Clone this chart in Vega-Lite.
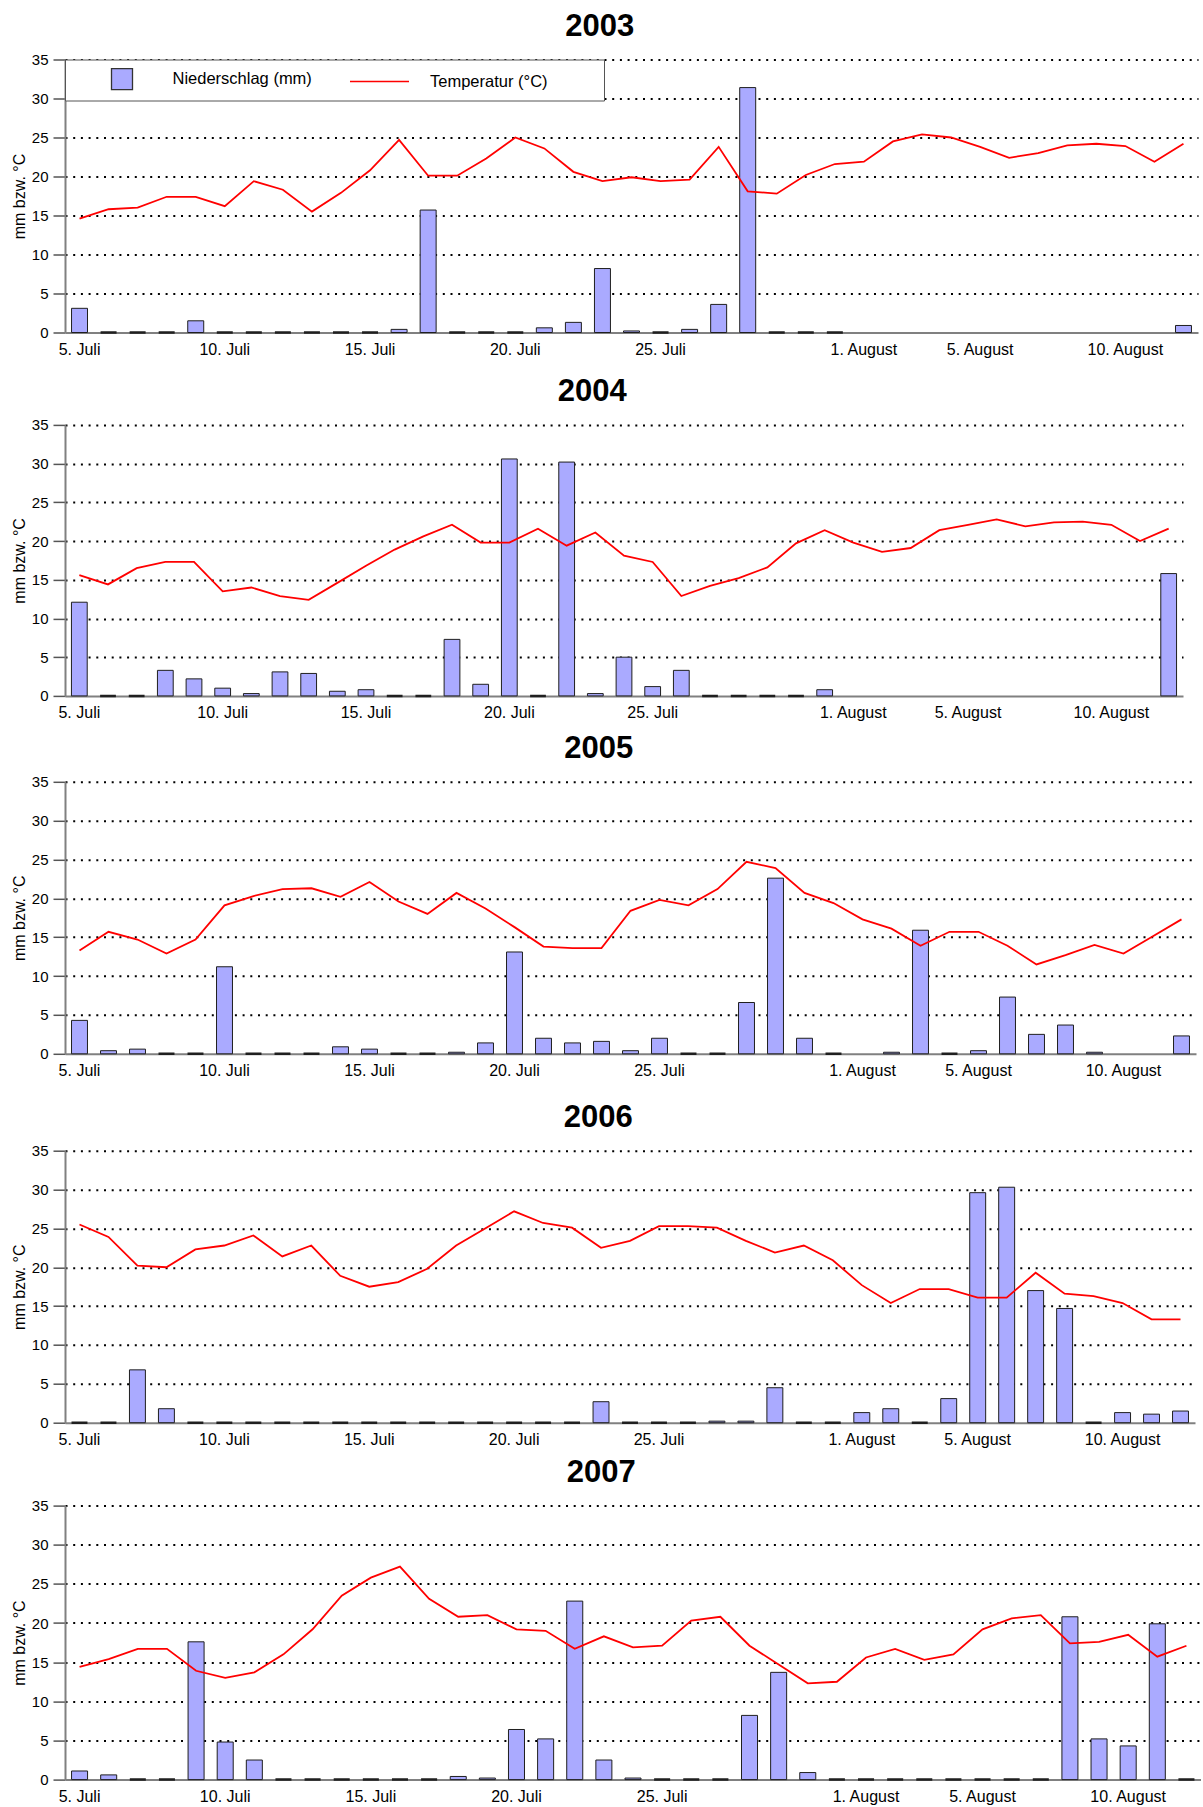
{
  "$schema": "https://vega.github.io/schema/vega-lite/v6.json",
  "background": "white",
  "padding": {"left": 11, "top": 10.5, "right": 0, "bottom": 0},
  "config": {
    "font": "Liberation Sans",
    "view": {"stroke": null},
    "title": {"fontSize": 31, "fontWeight": "bold", "color": "black", "anchor": "middle", "frame": "bounds", "offset": 9.5, "dx": -5},
    "axisX": {
      "ticks": false, "tickSize": 0, "labelAngle": 0, "labelFontSize": 16, "labelColor": "black", "labelPadding": 8.5,
      "labelOverlap": false, "labelFlush": false, "domainColor": "#808080", "domainWidth": 2, "grid": false
    },
    "axisY": {
      "values": [0, 5, 10, 15, 20, 25, 30, 35],
      "titleFontSize": 16, "titleFontWeight": "normal", "titleColor": "black", "titlePadding": 4,
      "labelFontSize": 15, "labelColor": "black", "labelPadding": 5, "labelOverlap": false,
      "tickSize": 12, "tickColor": "#555555", "tickWidth": 1.5, "domainColor": "#808080", "domainWidth": 2,
      "grid": true, "gridColor": "black", "gridWidth": 2, "gridDash": [2, 5.7]
    }
  },
  "resolve": {"scale": {"x": "independent", "y": "independent", "color": "independent"}, "legend": {"color": "independent"}},
  "data": {
    "values": [
      {"year": 2003, "day": "5. Juli", "mm": 3.1, "temp": 14.6},
      {"year": 2003, "day": "6. Juli", "mm": 0, "temp": 15.8},
      {"year": 2003, "day": "7. Juli", "mm": 0, "temp": 16.0},
      {"year": 2003, "day": "8. Juli", "mm": 0, "temp": 17.4},
      {"year": 2003, "day": "9. Juli", "mm": 1.5, "temp": 17.4},
      {"year": 2003, "day": "10. Juli", "mm": 0, "temp": 16.2},
      {"year": 2003, "day": "11. Juli", "mm": 0, "temp": 19.4},
      {"year": 2003, "day": "12. Juli", "mm": 0, "temp": 18.3},
      {"year": 2003, "day": "13. Juli", "mm": 0, "temp": 15.5},
      {"year": 2003, "day": "14. Juli", "mm": 0, "temp": 17.9},
      {"year": 2003, "day": "15. Juli", "mm": 0, "temp": 20.8},
      {"year": 2003, "day": "16. Juli", "mm": 0.4, "temp": 24.7},
      {"year": 2003, "day": "17. Juli", "mm": 15.7, "temp": 20.1},
      {"year": 2003, "day": "18. Juli", "mm": 0, "temp": 20.1},
      {"year": 2003, "day": "19. Juli", "mm": 0, "temp": 22.3},
      {"year": 2003, "day": "20. Juli", "mm": 0, "temp": 25.0},
      {"year": 2003, "day": "21. Juli", "mm": 0.6, "temp": 23.6},
      {"year": 2003, "day": "22. Juli", "mm": 1.3, "temp": 20.6},
      {"year": 2003, "day": "23. Juli", "mm": 8.2, "temp": 19.4},
      {"year": 2003, "day": "24. Juli", "mm": 0.2, "temp": 19.9},
      {"year": 2003, "day": "25. Juli", "mm": 0, "temp": 19.4},
      {"year": 2003, "day": "26. Juli", "mm": 0.4, "temp": 19.6},
      {"year": 2003, "day": "27. Juli", "mm": 3.6, "temp": 23.8},
      {"year": 2003, "day": "28. Juli", "mm": 31.4, "temp": 18.1},
      {"year": 2003, "day": "29. Juli", "mm": 0, "temp": 17.8},
      {"year": 2003, "day": "30. Juli", "mm": 0, "temp": 20.2},
      {"year": 2003, "day": "31. Juli", "mm": 0, "temp": 21.6},
      {"year": 2003, "day": "1. August", "mm": null, "temp": 21.9},
      {"year": 2003, "day": "2. August", "mm": null, "temp": 24.5},
      {"year": 2003, "day": "3. August", "mm": null, "temp": 25.4},
      {"year": 2003, "day": "4. August", "mm": null, "temp": 25.0},
      {"year": 2003, "day": "5. August", "mm": null, "temp": 23.8},
      {"year": 2003, "day": "6. August", "mm": null, "temp": 22.4},
      {"year": 2003, "day": "7. August", "mm": null, "temp": 23.0},
      {"year": 2003, "day": "8. August", "mm": null, "temp": 24.0},
      {"year": 2003, "day": "9. August", "mm": null, "temp": 24.2},
      {"year": 2003, "day": "10. August", "mm": null, "temp": 23.9},
      {"year": 2003, "day": "11. August", "mm": null, "temp": 21.9},
      {"year": 2003, "day": "12. August", "mm": 0.9, "temp": 24.2},

      {"year": 2004, "day": "5. Juli", "mm": 12.1, "temp": 15.6},
      {"year": 2004, "day": "6. Juli", "mm": 0, "temp": 14.4},
      {"year": 2004, "day": "7. Juli", "mm": 0, "temp": 16.5},
      {"year": 2004, "day": "8. Juli", "mm": 3.3, "temp": 17.3},
      {"year": 2004, "day": "9. Juli", "mm": 2.2, "temp": 17.3},
      {"year": 2004, "day": "10. Juli", "mm": 1.0, "temp": 13.5},
      {"year": 2004, "day": "11. Juli", "mm": 0.3, "temp": 14.0},
      {"year": 2004, "day": "12. Juli", "mm": 3.1, "temp": 12.9},
      {"year": 2004, "day": "13. Juli", "mm": 2.9, "temp": 12.4},
      {"year": 2004, "day": "14. Juli", "mm": 0.6, "temp": 14.6},
      {"year": 2004, "day": "15. Juli", "mm": 0.8, "temp": 16.8},
      {"year": 2004, "day": "16. Juli", "mm": 0, "temp": 18.9},
      {"year": 2004, "day": "17. Juli", "mm": 0, "temp": 20.6},
      {"year": 2004, "day": "18. Juli", "mm": 7.3, "temp": 22.1},
      {"year": 2004, "day": "19. Juli", "mm": 1.5, "temp": 19.8},
      {"year": 2004, "day": "20. Juli", "mm": 30.6, "temp": 19.8},
      {"year": 2004, "day": "21. Juli", "mm": 0, "temp": 21.6},
      {"year": 2004, "day": "22. Juli", "mm": 30.2, "temp": 19.4},
      {"year": 2004, "day": "23. Juli", "mm": 0.3, "temp": 21.1},
      {"year": 2004, "day": "24. Juli", "mm": 5.0, "temp": 18.1},
      {"year": 2004, "day": "25. Juli", "mm": 1.2, "temp": 17.3},
      {"year": 2004, "day": "26. Juli", "mm": 3.3, "temp": 12.9},
      {"year": 2004, "day": "27. Juli", "mm": 0, "temp": 14.2},
      {"year": 2004, "day": "28. Juli", "mm": 0, "temp": 15.2},
      {"year": 2004, "day": "29. Juli", "mm": 0, "temp": 16.6},
      {"year": 2004, "day": "30. Juli", "mm": 0, "temp": 19.7},
      {"year": 2004, "day": "31. Juli", "mm": 0.8, "temp": 21.4},
      {"year": 2004, "day": "1. August", "mm": null, "temp": 19.8},
      {"year": 2004, "day": "2. August", "mm": null, "temp": 18.6},
      {"year": 2004, "day": "3. August", "mm": null, "temp": 19.1},
      {"year": 2004, "day": "4. August", "mm": null, "temp": 21.4},
      {"year": 2004, "day": "5. August", "mm": null, "temp": 22.1},
      {"year": 2004, "day": "6. August", "mm": null, "temp": 22.8},
      {"year": 2004, "day": "7. August", "mm": null, "temp": 21.9},
      {"year": 2004, "day": "8. August", "mm": null, "temp": 22.4},
      {"year": 2004, "day": "9. August", "mm": null, "temp": 22.5},
      {"year": 2004, "day": "10. August", "mm": null, "temp": 22.1},
      {"year": 2004, "day": "11. August", "mm": null, "temp": 20.0},
      {"year": 2004, "day": "12. August", "mm": 15.8, "temp": 21.6},

      {"year": 2005, "day": "5. Juli", "mm": 4.3, "temp": 13.3},
      {"year": 2005, "day": "6. Juli", "mm": 0.4, "temp": 15.7},
      {"year": 2005, "day": "7. Juli", "mm": 0.6, "temp": 14.7},
      {"year": 2005, "day": "8. Juli", "mm": 0, "temp": 12.9},
      {"year": 2005, "day": "9. Juli", "mm": 0, "temp": 14.7},
      {"year": 2005, "day": "10. Juli", "mm": 11.2, "temp": 19.1},
      {"year": 2005, "day": "11. Juli", "mm": 0, "temp": 20.3},
      {"year": 2005, "day": "12. Juli", "mm": 0, "temp": 21.2},
      {"year": 2005, "day": "13. Juli", "mm": 0, "temp": 21.3},
      {"year": 2005, "day": "14. Juli", "mm": 0.9, "temp": 20.2},
      {"year": 2005, "day": "15. Juli", "mm": 0.6, "temp": 22.1},
      {"year": 2005, "day": "16. Juli", "mm": 0, "temp": 19.6},
      {"year": 2005, "day": "17. Juli", "mm": 0, "temp": 18.0},
      {"year": 2005, "day": "18. Juli", "mm": 0.2, "temp": 20.7},
      {"year": 2005, "day": "19. Juli", "mm": 1.4, "temp": 18.7},
      {"year": 2005, "day": "20. Juli", "mm": 13.1, "temp": 16.3},
      {"year": 2005, "day": "21. Juli", "mm": 2.0, "temp": 13.8},
      {"year": 2005, "day": "22. Juli", "mm": 1.4, "temp": 13.6},
      {"year": 2005, "day": "23. Juli", "mm": 1.6, "temp": 13.6},
      {"year": 2005, "day": "24. Juli", "mm": 0.4, "temp": 18.4},
      {"year": 2005, "day": "25. Juli", "mm": 2.0, "temp": 19.8},
      {"year": 2005, "day": "26. Juli", "mm": 0, "temp": 19.1},
      {"year": 2005, "day": "27. Juli", "mm": 0, "temp": 21.2},
      {"year": 2005, "day": "28. Juli", "mm": 6.6, "temp": 24.7},
      {"year": 2005, "day": "29. Juli", "mm": 22.6, "temp": 23.9},
      {"year": 2005, "day": "30. Juli", "mm": 2.0, "temp": 20.7},
      {"year": 2005, "day": "31. Juli", "mm": 0, "temp": 19.4},
      {"year": 2005, "day": "1. August", "mm": null, "temp": 17.3},
      {"year": 2005, "day": "2. August", "mm": 0.2, "temp": 16.1},
      {"year": 2005, "day": "3. August", "mm": 15.9, "temp": 13.9},
      {"year": 2005, "day": "4. August", "mm": 0, "temp": 15.7},
      {"year": 2005, "day": "5. August", "mm": 0.4, "temp": 15.7},
      {"year": 2005, "day": "6. August", "mm": 7.3, "temp": 13.9},
      {"year": 2005, "day": "7. August", "mm": 2.5, "temp": 11.5},
      {"year": 2005, "day": "8. August", "mm": 3.7, "temp": 12.7},
      {"year": 2005, "day": "9. August", "mm": 0.2, "temp": 14.0},
      {"year": 2005, "day": "10. August", "mm": null, "temp": 12.9},
      {"year": 2005, "day": "11. August", "mm": null, "temp": 15.1},
      {"year": 2005, "day": "12. August", "mm": 2.3, "temp": 17.3},

      {"year": 2006, "day": "5. Juli", "mm": 0, "temp": 25.5},
      {"year": 2006, "day": "6. Juli", "mm": 0, "temp": 23.9},
      {"year": 2006, "day": "7. Juli", "mm": 6.8, "temp": 20.2},
      {"year": 2006, "day": "8. Juli", "mm": 1.8, "temp": 20.0},
      {"year": 2006, "day": "9. Juli", "mm": 0, "temp": 22.3},
      {"year": 2006, "day": "10. Juli", "mm": 0, "temp": 22.8},
      {"year": 2006, "day": "11. Juli", "mm": 0, "temp": 24.1},
      {"year": 2006, "day": "12. Juli", "mm": 0, "temp": 21.4},
      {"year": 2006, "day": "13. Juli", "mm": 0, "temp": 22.8},
      {"year": 2006, "day": "14. Juli", "mm": 0, "temp": 18.9},
      {"year": 2006, "day": "15. Juli", "mm": 0, "temp": 17.5},
      {"year": 2006, "day": "16. Juli", "mm": 0, "temp": 18.1},
      {"year": 2006, "day": "17. Juli", "mm": 0, "temp": 19.8},
      {"year": 2006, "day": "18. Juli", "mm": 0, "temp": 22.8},
      {"year": 2006, "day": "19. Juli", "mm": 0, "temp": 25.0},
      {"year": 2006, "day": "20. Juli", "mm": 0, "temp": 27.2},
      {"year": 2006, "day": "21. Juli", "mm": 0, "temp": 25.7},
      {"year": 2006, "day": "22. Juli", "mm": 0, "temp": 25.1},
      {"year": 2006, "day": "23. Juli", "mm": 2.7, "temp": 22.5},
      {"year": 2006, "day": "24. Juli", "mm": 0, "temp": 23.4},
      {"year": 2006, "day": "25. Juli", "mm": 0, "temp": 25.3},
      {"year": 2006, "day": "26. Juli", "mm": 0, "temp": 25.3},
      {"year": 2006, "day": "27. Juli", "mm": 0.2, "temp": 25.1},
      {"year": 2006, "day": "28. Juli", "mm": 0.2, "temp": 23.4},
      {"year": 2006, "day": "29. Juli", "mm": 4.5, "temp": 21.9},
      {"year": 2006, "day": "30. Juli", "mm": 0, "temp": 22.8},
      {"year": 2006, "day": "31. Juli", "mm": 0, "temp": 20.9},
      {"year": 2006, "day": "1. August", "mm": 1.3, "temp": 17.7},
      {"year": 2006, "day": "2. August", "mm": 1.8, "temp": 15.4},
      {"year": 2006, "day": "3. August", "mm": 0, "temp": 17.2},
      {"year": 2006, "day": "4. August", "mm": 3.1, "temp": 17.2},
      {"year": 2006, "day": "5. August", "mm": 29.6, "temp": 16.1},
      {"year": 2006, "day": "6. August", "mm": 30.3, "temp": 16.1},
      {"year": 2006, "day": "7. August", "mm": 17.0, "temp": 19.3},
      {"year": 2006, "day": "8. August", "mm": 14.7, "temp": 16.6},
      {"year": 2006, "day": "9. August", "mm": 0, "temp": 16.3},
      {"year": 2006, "day": "10. August", "mm": 1.3, "temp": 15.4},
      {"year": 2006, "day": "11. August", "mm": 1.1, "temp": 13.3},
      {"year": 2006, "day": "12. August", "mm": 1.5, "temp": 13.3},

      {"year": 2007, "day": "5. Juli", "mm": 1.1, "temp": 14.4},
      {"year": 2007, "day": "6. Juli", "mm": 0.6, "temp": 15.4},
      {"year": 2007, "day": "7. Juli", "mm": 0, "temp": 16.7},
      {"year": 2007, "day": "8. Juli", "mm": 0, "temp": 16.7},
      {"year": 2007, "day": "9. Juli", "mm": 17.6, "temp": 13.9},
      {"year": 2007, "day": "10. Juli", "mm": 4.8, "temp": 13.0},
      {"year": 2007, "day": "11. Juli", "mm": 2.5, "temp": 13.7},
      {"year": 2007, "day": "12. Juli", "mm": 0, "temp": 16.0},
      {"year": 2007, "day": "13. Juli", "mm": 0, "temp": 19.2},
      {"year": 2007, "day": "14. Juli", "mm": 0, "temp": 23.5},
      {"year": 2007, "day": "15. Juli", "mm": 0, "temp": 25.8},
      {"year": 2007, "day": "16. Juli", "mm": 0, "temp": 27.2},
      {"year": 2007, "day": "17. Juli", "mm": 0, "temp": 23.1},
      {"year": 2007, "day": "18. Juli", "mm": 0.4, "temp": 20.8},
      {"year": 2007, "day": "19. Juli", "mm": 0.2, "temp": 21.0},
      {"year": 2007, "day": "20. Juli", "mm": 6.4, "temp": 19.2},
      {"year": 2007, "day": "21. Juli", "mm": 5.2, "temp": 19.0},
      {"year": 2007, "day": "22. Juli", "mm": 22.8, "temp": 16.7},
      {"year": 2007, "day": "23. Juli", "mm": 2.5, "temp": 18.3},
      {"year": 2007, "day": "24. Juli", "mm": 0.2, "temp": 16.9},
      {"year": 2007, "day": "25. Juli", "mm": 0, "temp": 17.1},
      {"year": 2007, "day": "26. Juli", "mm": 0, "temp": 20.3},
      {"year": 2007, "day": "27. Juli", "mm": 0, "temp": 20.8},
      {"year": 2007, "day": "28. Juli", "mm": 8.2, "temp": 17.1},
      {"year": 2007, "day": "29. Juli", "mm": 13.7, "temp": 14.7},
      {"year": 2007, "day": "30. Juli", "mm": 0.9, "temp": 12.3},
      {"year": 2007, "day": "31. Juli", "mm": 0, "temp": 12.5},
      {"year": 2007, "day": "1. August", "mm": 0, "temp": 15.6},
      {"year": 2007, "day": "2. August", "mm": 0, "temp": 16.7},
      {"year": 2007, "day": "3. August", "mm": 0, "temp": 15.3},
      {"year": 2007, "day": "4. August", "mm": 0, "temp": 16.0},
      {"year": 2007, "day": "5. August", "mm": 0, "temp": 19.2},
      {"year": 2007, "day": "6. August", "mm": 0, "temp": 20.6},
      {"year": 2007, "day": "7. August", "mm": 0, "temp": 21.0},
      {"year": 2007, "day": "8. August", "mm": 20.8, "temp": 17.4},
      {"year": 2007, "day": "9. August", "mm": 5.2, "temp": 17.6},
      {"year": 2007, "day": "10. August", "mm": 4.3, "temp": 18.5},
      {"year": 2007, "day": "11. August", "mm": 19.9, "temp": 15.7},
      {"year": 2007, "day": "12. August", "mm": 0, "temp": 17.1}
    ]
  },
  "spacing": 18.4,
  "vconcat": [
    {
      "title": {"text": "2003"},
      "width": 1133, "height": 273,
      "transform": [{"filter": "datum.year === 2003"}],
      "encoding": {
        "x": {"field": "day", "type": "ordinal", "sort": null,
          "axis": {"title": null, "values": ["5. Juli", "10. Juli", "15. Juli", "20. Juli", "25. Juli", "1. August", "5. August", "10. August"]},
          "scale": {"paddingInner": 0.45, "paddingOuter": 0.225, "domain": ["5. Juli", "6. Juli", "7. Juli", "8. Juli", "9. Juli", "10. Juli", "11. Juli", "12. Juli", "13. Juli", "14. Juli", "15. Juli", "16. Juli", "17. Juli", "18. Juli", "19. Juli", "20. Juli", "21. Juli", "22. Juli", "23. Juli", "24. Juli", "25. Juli", "26. Juli", "27. Juli", "28. Juli", "29. Juli", "30. Juli", "31. Juli", "1. August", "2. August", "3. August", "4. August", "5. August", "6. August", "7. August", "8. August", "9. August", "10. August", "11. August", "12. August"]}}
      },
      "layer": [
        {
          "mark": {"type": "bar", "stroke": "#1f1f1f"},
          "encoding": {
            "y": {"field": "mm", "type": "quantitative", "scale": {"domain": [0, 35], "nice": false},
              "axis": {"title": "mm bzw. °C", "gridOpacity": {"condition": {"test": "datum.value === 0", "value": 0}, "value": 1}}},
            "color": {"datum": "Niederschlag (mm)",
              "scale": {"domain": ["Niederschlag (mm)", "Temperatur (°C)"], "range": ["#aaaaff", "#ff0000"]},
              "legend": {"orient": "none", "legendX": 0, "legendY": 0, "direction": "horizontal",
                "title": "\u2800\u2800\u2800", "titleOrient": "left", "titleFontSize": 14.6, "titlePadding": 4.5,
                "padding": 8, "strokeColor": "#555555", "fillColor": "white", "labelFontSize": 16.5, "labelColor": "black", "labelLimit": 400,
                "labelExpr": "datum.value === 'Temperatur (°C)' ? datum.label + '\u2800\u2800\u2800\u2800' : datum.label",
                "labelOffset": 39, "columnPadding": 34.5, "symbolSize": 441, "symbolStrokeWidth": 1.3, "symbolStrokeColor": "#333333",
                "encoding": {"symbols": {
                  "shape": {"value": {"expr": "datum.value === 'Temperatur (°C)' ? 'M-2.81,0H2.81' : 'square'"}},
                  "strokeWidth": {"value": 1.3},
                  "fill": {"value": {"expr": "datum.value === 'Temperatur (°C)' ? 'transparent' : '#aaaaff'"}},
                  "stroke": {"value": {"expr": "datum.value === 'Temperatur (°C)' ? '#ff0000' : '#333333'"}}
                }}}},
            "strokeWidth": {"condition": {"test": "datum.mm === 0", "value": 2.5}, "value": 1}
          }
        },
        {
          "mark": {"type": "line", "stroke": "#ff0000", "strokeWidth": 1.8},
          "encoding": {"y": {"field": "temp", "type": "quantitative"}}
        }
      ]
    },
    {
      "resolve": {"scale": {"x": "independent", "y": "independent"}},
      "spacing": 11.9,
      "vconcat": [
        {
          "title": {"text": "2004"},
          "width": 1118, "height": 271,
          "transform": [{"filter": "datum.year === 2004"}],
          "encoding": {
            "x": {"field": "day", "type": "ordinal", "sort": null,
              "axis": {"title": null, "values": ["5. Juli", "10. Juli", "15. Juli", "20. Juli", "25. Juli", "1. August", "5. August", "10. August"]},
              "scale": {"paddingInner": 0.45, "paddingOuter": 0.225, "domain": ["5. Juli", "6. Juli", "7. Juli", "8. Juli", "9. Juli", "10. Juli", "11. Juli", "12. Juli", "13. Juli", "14. Juli", "15. Juli", "16. Juli", "17. Juli", "18. Juli", "19. Juli", "20. Juli", "21. Juli", "22. Juli", "23. Juli", "24. Juli", "25. Juli", "26. Juli", "27. Juli", "28. Juli", "29. Juli", "30. Juli", "31. Juli", "1. August", "2. August", "3. August", "4. August", "5. August", "6. August", "7. August", "8. August", "9. August", "10. August", "11. August", "12. August"]}}
          },
          "layer": [
            {
              "mark": {"type": "bar", "stroke": "#1f1f1f", "fill": "#aaaaff"},
              "encoding": {
                "y": {"field": "mm", "type": "quantitative", "scale": {"domain": [0, 35], "nice": false},
                  "axis": {"title": "mm bzw. °C", "gridOpacity": {"condition": {"test": "datum.value === 0", "value": 0}, "value": 1}}},
                "strokeWidth": {"condition": {"test": "datum.mm === 0", "value": 2.5}, "value": 1}
              }
            },
            {"mark": {"type": "line", "stroke": "#ff0000", "strokeWidth": 1.8}, "encoding": {"y": {"field": "temp", "type": "quantitative"}}}
          ]
        },
        {
          "resolve": {"scale": {"x": "independent", "y": "independent"}},
          "spacing": 22.9,
          "vconcat": [
            {
              "title": {"text": "2005"},
              "width": 1131, "height": 272,
              "transform": [{"filter": "datum.year === 2005"}],
              "encoding": {
                "x": {"field": "day", "type": "ordinal", "sort": null,
                  "axis": {"title": null, "values": ["5. Juli", "10. Juli", "15. Juli", "20. Juli", "25. Juli", "1. August", "5. August", "10. August"]},
                  "scale": {"paddingInner": 0.45, "paddingOuter": 0.225, "domain": ["5. Juli", "6. Juli", "7. Juli", "8. Juli", "9. Juli", "10. Juli", "11. Juli", "12. Juli", "13. Juli", "14. Juli", "15. Juli", "16. Juli", "17. Juli", "18. Juli", "19. Juli", "20. Juli", "21. Juli", "22. Juli", "23. Juli", "24. Juli", "25. Juli", "26. Juli", "27. Juli", "28. Juli", "29. Juli", "30. Juli", "31. Juli", "1. August", "2. August", "3. August", "4. August", "5. August", "6. August", "7. August", "8. August", "9. August", "10. August", "11. August", "12. August"]}}
              },
              "layer": [
                {
                  "mark": {"type": "bar", "stroke": "#1f1f1f", "fill": "#aaaaff"},
                  "encoding": {
                    "y": {"field": "mm", "type": "quantitative", "scale": {"domain": [0, 35], "nice": false},
                      "axis": {"title": "mm bzw. °C", "gridOpacity": {"condition": {"test": "datum.value === 0", "value": 0}, "value": 1}}},
                    "strokeWidth": {"condition": {"test": "datum.mm === 0", "value": 2.5}, "value": 1}
                  }
                },
                {"mark": {"type": "line", "stroke": "#ff0000", "strokeWidth": 1.8}, "encoding": {"y": {"field": "temp", "type": "quantitative"}}}
              ]
            },
            {
              "resolve": {"scale": {"x": "independent", "y": "independent"}},
              "spacing": 8.9,
              "vconcat": [
                {
                  "title": {"text": "2006"},
                  "width": 1130, "height": 272,
                  "transform": [{"filter": "datum.year === 2006"}],
                  "encoding": {
                    "x": {"field": "day", "type": "ordinal", "sort": null,
                      "axis": {"title": null, "values": ["5. Juli", "10. Juli", "15. Juli", "20. Juli", "25. Juli", "1. August", "5. August", "10. August"]},
                      "scale": {"paddingInner": 0.45, "paddingOuter": 0.225, "domain": ["5. Juli", "6. Juli", "7. Juli", "8. Juli", "9. Juli", "10. Juli", "11. Juli", "12. Juli", "13. Juli", "14. Juli", "15. Juli", "16. Juli", "17. Juli", "18. Juli", "19. Juli", "20. Juli", "21. Juli", "22. Juli", "23. Juli", "24. Juli", "25. Juli", "26. Juli", "27. Juli", "28. Juli", "29. Juli", "30. Juli", "31. Juli", "1. August", "2. August", "3. August", "4. August", "5. August", "6. August", "7. August", "8. August", "9. August", "10. August", "11. August", "12. August"]}}
                  },
                  "layer": [
                    {
                      "mark": {"type": "bar", "stroke": "#1f1f1f", "fill": "#aaaaff"},
                      "encoding": {
                        "y": {"field": "mm", "type": "quantitative", "scale": {"domain": [0, 35], "nice": false},
                          "axis": {"title": "mm bzw. °C", "gridOpacity": {"condition": {"test": "datum.value === 0", "value": 0}, "value": 1}}},
                        "strokeWidth": {"condition": {"test": "datum.mm === 0", "value": 2.5}, "value": 1}
                      }
                    },
                    {"mark": {"type": "line", "stroke": "#ff0000", "strokeWidth": 1.8}, "encoding": {"y": {"field": "temp", "type": "quantitative"}}}
                  ]
                },
                {
                  "title": {"text": "2007"},
                  "width": 1136, "height": 274,
                  "transform": [{"filter": "datum.year === 2007"}],
                  "encoding": {
                    "x": {"field": "day", "type": "ordinal", "sort": null,
                      "axis": {"title": null, "values": ["5. Juli", "10. Juli", "15. Juli", "20. Juli", "25. Juli", "1. August", "5. August", "10. August"]},
                      "scale": {"paddingInner": 0.45, "paddingOuter": 0.225, "domain": ["5. Juli", "6. Juli", "7. Juli", "8. Juli", "9. Juli", "10. Juli", "11. Juli", "12. Juli", "13. Juli", "14. Juli", "15. Juli", "16. Juli", "17. Juli", "18. Juli", "19. Juli", "20. Juli", "21. Juli", "22. Juli", "23. Juli", "24. Juli", "25. Juli", "26. Juli", "27. Juli", "28. Juli", "29. Juli", "30. Juli", "31. Juli", "1. August", "2. August", "3. August", "4. August", "5. August", "6. August", "7. August", "8. August", "9. August", "10. August", "11. August", "12. August"]}}
                  },
                  "layer": [
                    {
                      "mark": {"type": "bar", "stroke": "#1f1f1f", "fill": "#aaaaff"},
                      "encoding": {
                        "y": {"field": "mm", "type": "quantitative", "scale": {"domain": [0, 35], "nice": false},
                          "axis": {"title": "mm bzw. °C", "gridOpacity": {"condition": {"test": "datum.value === 0", "value": 0}, "value": 1}}},
                        "strokeWidth": {"condition": {"test": "datum.mm === 0", "value": 2.5}, "value": 1}
                      }
                    },
                    {"mark": {"type": "line", "stroke": "#ff0000", "strokeWidth": 1.8}, "encoding": {"y": {"field": "temp", "type": "quantitative"}}}
                  ]
                }
              ]
            }
          ]
        }
      ]
    }
  ]
}
